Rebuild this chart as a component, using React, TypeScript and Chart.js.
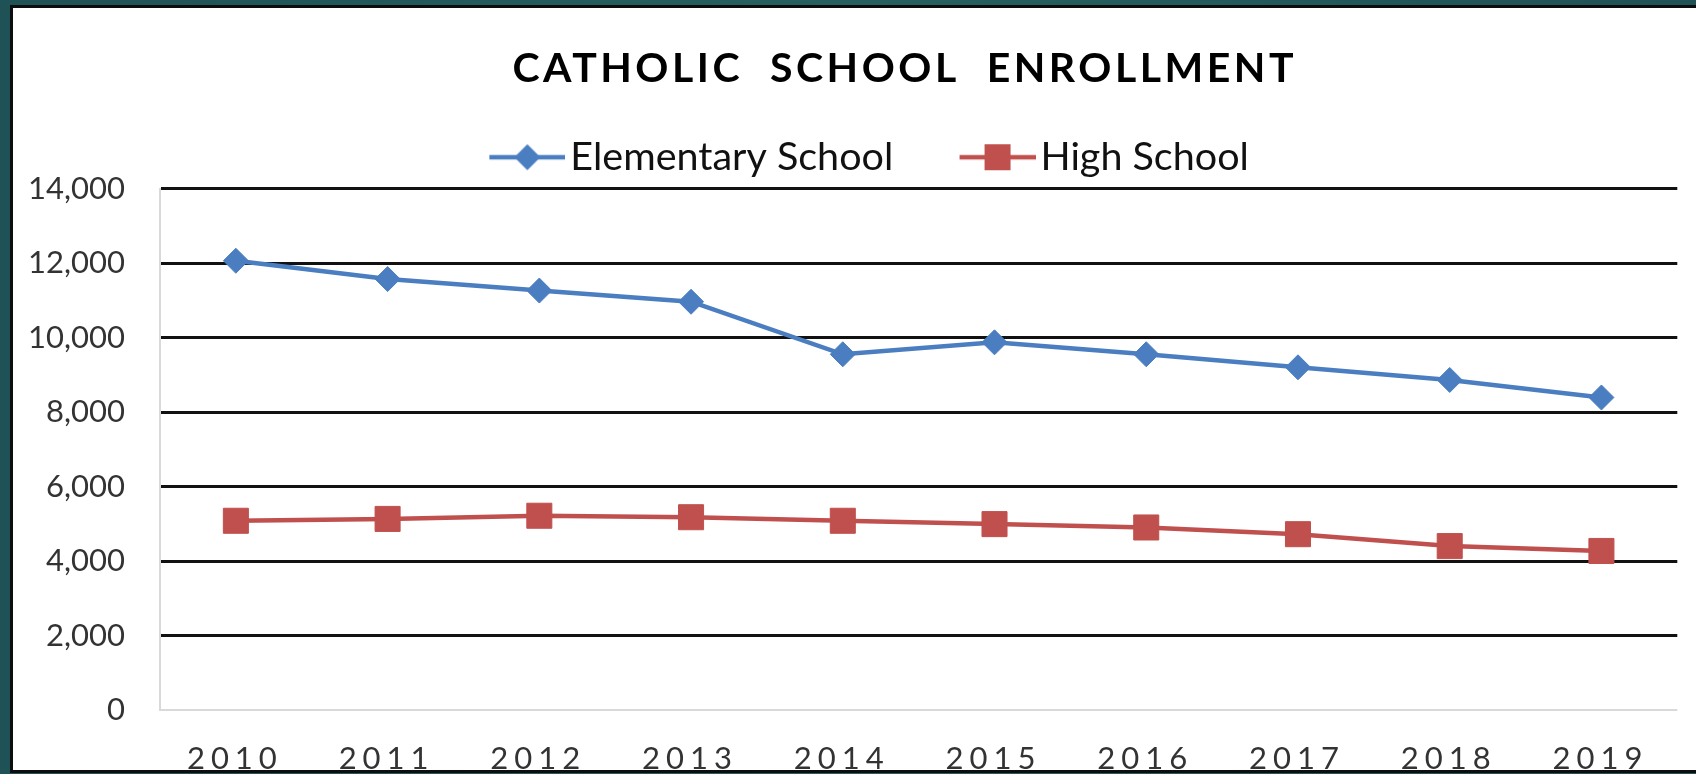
import React, { useEffect, useRef } from 'react';
import { Chart, registerables } from 'chart.js';

Chart.register(...registerables);

// ---- data ----
const YEARS = ['2010', '2011', '2012', '2013', '2014', '2015', '2016', '2017', '2018', '2019'];
const ELEMENTARY = [12060, 11570, 11260, 10960, 9550, 9870, 9550, 9200, 8860, 8390];
const HIGH_SCHOOL = [5080, 5130, 5215, 5175, 5080, 4990, 4900, 4720, 4400, 4270];
const SERIES_NAMES = ['Elementary School', 'High School'];
const TITLE = 'CATHOLIC  SCHOOL  ENROLLMENT';
const Y_MIN = 0;
const Y_MAX = 14000;
const Y_STEP = 2000;

// ---- styles ----
const BLUE = '#4A7EC1';
const RED = '#C0504D';
const FONT = 'Lato';
const TITLE_DX = 55;
const TITLE_SPACING = 3.5;
const LEGEND_DX = -7;
const LEGEND_DY = -1.5;
const X_SPACING = 6;
const X_DX = -1;

function makeGlyph(color: string, shape: 'diamond' | 'square') {
  const c = document.createElement('canvas');
  c.width = 147;
  c.height = 30;
  const g = c.getContext('2d')!;
  g.strokeStyle = color;
  g.lineWidth = 4.5;
  g.beginPath();
  g.moveTo(71, 15);
  g.lineTo(147, 15);
  g.stroke();
  g.fillStyle = color;
  const cx = 109;
  if (shape === 'diamond') {
    g.beginPath();
    g.moveTo(cx - 13, 15);
    g.lineTo(cx, 2);
    g.lineTo(cx + 13, 15);
    g.lineTo(cx, 28);
    g.closePath();
    g.fill();
  } else {
    g.fillRect(cx - 13, 2, 26, 26);
  }
  return c;
}

const patchPlugin = {
  id: 'patchText',
  afterLayout(chart: any) {
    const ctx = chart.ctx;
    const x = chart.scales.x;
    if (x && !x.__patched) {
      const orig = x.drawLabels.bind(x);
      x.drawLabels = (area: any) => {
        ctx.save();
        ctx.letterSpacing = X_SPACING + 'px';
        ctx.translate(X_DX, 0);
        orig(area);
        ctx.restore();
      };
      x.__patched = true;
    }
    const t = chart.titleBlock;
    if (t && !t.__patched) {
      const orig = t.draw.bind(t);
      t.draw = (area: any) => {
        ctx.save();
        ctx.letterSpacing = TITLE_SPACING + 'px';
        ctx.translate(TITLE_DX + TITLE_SPACING / 2, 0);
        orig(area);
        ctx.restore();
      };
      t.__patched = true;
    }
    const l = chart.legend;
    if (l && !l.__patched) {
      const orig = l.draw.bind(l);
      l.draw = (area: any) => {
        ctx.save();
        ctx.translate(LEGEND_DX, LEGEND_DY);
        orig(area);
        ctx.restore();
      };
      l.__patched = true;
    }
  },
};

export default function App() {
  const ref = useRef<HTMLCanvasElement>(null);

  useEffect(() => {
    document.body.style.margin = '0';
    const glyphs = [makeGlyph(BLUE, 'diamond'), makeGlyph(RED, 'square')];
    const chart = new Chart(ref.current!, {
      type: 'line',
      data: {
        labels: YEARS,
        datasets: [
          {
            label: SERIES_NAMES[0],
            data: ELEMENTARY,
            borderColor: BLUE,
            backgroundColor: BLUE,
            borderWidth: 4.5,
            pointStyle: 'rectRot',
            pointRadius: 12.5,
            pointBorderWidth: 1,
            pointBackgroundColor: BLUE,
            pointBorderColor: BLUE,
            tension: 0,
          },
          {
            label: SERIES_NAMES[1],
            data: HIGH_SCHOOL,
            borderColor: RED,
            backgroundColor: RED,
            borderWidth: 4.5,
            pointStyle: 'rect',
            pointRadius: 17.7,
            pointBorderWidth: 1,
            pointBackgroundColor: RED,
            pointBorderColor: RED,
            tension: 0,
          },
        ],
      },
      plugins: [patchPlugin],
      options: {
        responsive: false,
        animation: false,
        devicePixelRatio: 1,
        layout: { padding: { left: 0, right: 13, top: 0, bottom: 0 } },
        plugins: {
          tooltip: { enabled: false },
          title: {
            display: true,
            text: TITLE,
            color: '#000',
            font: { family: FONT, size: 41, weight: 'bold' },
            padding: { top: 36, bottom: 35.8 },
          },
          legend: {
            display: true,
            labels: {
              usePointStyle: true,
              pointStyleWidth: 117.5,
              padding: 10,
              color: '#111',
              font: { family: FONT, size: 39.5 },
              generateLabels: (c: any) => {
                const items = Chart.defaults.plugins.legend.labels.generateLabels(c);
                items.forEach((it: any, i: number) => {
                  it.pointStyle = glyphs[i];
                });
                return items;
              },
            },
          },
        },
        scales: {
          x: {
            type: 'category',
            offset: true,
            grid: { display: false, drawTicks: false },
            border: { display: false },
            ticks: {
              color: '#333',
              font: { family: FONT, size: 31 },
              padding: 30,
              autoSkip: false,
              maxRotation: 0,
            },
            afterFit: (s: any) => {
              s.height = 60;
            },
          },
          y: {
            min: Y_MIN,
            max: Y_MAX,
            ticks: {
              stepSize: Y_STEP,
              color: '#333',
              font: { family: FONT, size: 31 },
              padding: 35,
            },
            grid: {
              drawTicks: false,
              color: (c: any) => (c.tick && c.tick.value === 0 ? '#d9d9d9' : '#111'),
              lineWidth: (c: any) => (c.tick && c.tick.value === 0 ? 2 : 3),
            },
            border: { color: '#d9d9d9', width: 2 },
            afterFit: (s: any) => {
              s.width = 147;
            },
          },
        },
      },
    } as any);
    return () => chart.destroy();
  }, []);

  return (
    <div
      style={{
        position: 'fixed',
        left: 0,
        top: 0,
        width: 1696,
        height: 774,
        background: 'linear-gradient(90deg, #1f5256 0%, #27605f 50%, #1f5256 100%)',
        overflow: 'hidden',
      }}
    >
      <div
        style={{
          position: 'absolute',
          left: 10,
          top: 5,
          width: 1700,
          height: 768,
          boxSizing: 'border-box',
          border: '3px solid #0d0d0d',
          background: '#fff',
        }}
      >
        <canvas
          ref={ref}
          width={1683}
          height={762}
          style={{ position: 'absolute', left: 0, top: 0, width: 1683, height: 762 }}
        />
      </div>
    </div>
  );
}
